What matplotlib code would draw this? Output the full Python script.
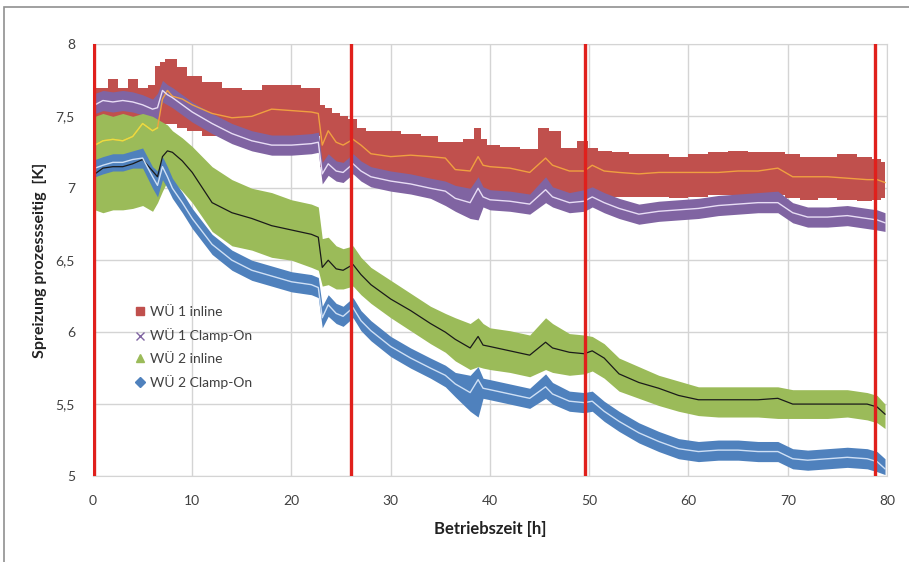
import matplotlib.pyplot as plt
from matplotlib.lines import Line2D
from matplotlib.patches import Rectangle

plt.rcParams['font.family'] = ['Lato', 'DejaVu Sans']

# time axis (h), shared by all series
hours = [0.2, 1, 2, 3, 4, 5, 6, 6.5, 7, 7.5,
         8, 9, 10, 12, 14, 16, 18, 20, 22, 22.7,
         23.1, 23.7, 24.5, 25.2, 26.2, 27, 28, 30, 32, 34,
         35.5, 36.5, 38, 38.8, 39.3, 40, 42, 44, 45.6, 46.3,
         48, 49.5, 50.3, 51.5, 53, 55, 57, 59, 61, 63,
         65, 67, 69, 70.5, 72, 74, 76, 78, 79, 79.8]

# WÜ 1 inline (red)
wu1_inline_mid = [7.30, 7.33, 7.34, 7.33, 7.36, 7.45, 7.40, 7.42, 7.62, 7.68,
                  7.64, 7.62, 7.58, 7.52, 7.49, 7.50, 7.55, 7.54, 7.53, 7.52,
                  7.30, 7.40, 7.32, 7.30, 7.34, 7.30, 7.24, 7.22, 7.23, 7.22,
                  7.21, 7.13, 7.12, 7.22, 7.16, 7.15, 7.14, 7.11, 7.21, 7.16,
                  7.12, 7.12, 7.16, 7.12, 7.11, 7.10, 7.11, 7.11, 7.11, 7.11,
                  7.12, 7.12, 7.14, 7.08, 7.08, 7.08, 7.07, 7.06, 7.06, 7.04]
wu1_inline_hi = [7.70, 7.70, 7.76, 7.70, 7.76, 7.70, 7.72, 7.85, 7.88, 7.90,
                 7.90, 7.84, 7.78, 7.74, 7.70, 7.68, 7.72, 7.72, 7.70, 7.70,
                 7.58, 7.56, 7.52, 7.50, 7.48, 7.42, 7.40, 7.40, 7.38, 7.36,
                 7.32, 7.32, 7.34, 7.42, 7.34, 7.30, 7.29, 7.27, 7.42, 7.40,
                 7.28, 7.33, 7.28, 7.26, 7.25, 7.24, 7.24, 7.22, 7.24, 7.25,
                 7.26, 7.25, 7.25, 7.24, 7.22, 7.22, 7.24, 7.22, 7.20, 7.18]
wu1_inline_lo = [7.40, 7.40, 7.40, 7.40, 7.40, 7.42, 7.42, 7.45, 7.45, 7.45,
                 7.45, 7.42, 7.40, 7.36, 7.35, 7.35, 7.36, 7.36, 7.36, 7.36,
                 7.15, 7.15, 7.15, 7.15, 7.15, 7.10, 7.08, 7.07, 7.05, 7.04,
                 7.00, 6.98, 6.96, 6.98, 6.97, 6.97, 6.96, 6.95, 6.98, 6.96,
                 6.94, 6.96, 6.96, 6.94, 6.94, 6.94, 6.94, 6.93, 6.94, 6.95,
                 6.95, 6.94, 6.95, 6.93, 6.92, 6.93, 6.92, 6.91, 6.92, 6.93]

# WÜ 1 Clamp-On (purple)
wu1_clamp_mid = [7.58, 7.61, 7.60, 7.61, 7.60, 7.58, 7.55, 7.56, 7.68, 7.65,
                 7.63, 7.58, 7.53, 7.45, 7.38, 7.33, 7.30, 7.30, 7.31, 7.32,
                 7.10, 7.17, 7.12, 7.11, 7.17, 7.12, 7.08, 7.05, 7.03, 7.00,
                 6.98, 6.93, 6.90, 7.00, 6.94, 6.92, 6.91, 6.89, 6.99, 6.94,
                 6.90, 6.91, 6.94, 6.90, 6.86, 6.82, 6.84, 6.85, 6.86, 6.88,
                 6.89, 6.90, 6.90, 6.83, 6.80, 6.80, 6.81, 6.79, 6.78, 6.76]
wu1_clamp_hi = [7.66, 7.68, 7.67, 7.68, 7.67, 7.65, 7.62, 7.66, 7.75, 7.72,
                7.70, 7.65, 7.60, 7.52, 7.45, 7.40, 7.37, 7.37, 7.38, 7.39,
                7.18, 7.24, 7.19, 7.18, 7.24, 7.19, 7.15, 7.12, 7.10, 7.07,
                7.05, 7.02, 7.00, 7.08, 7.01, 6.99, 6.98, 6.96, 7.08, 7.01,
                6.97, 6.99, 7.01, 6.97, 6.93, 6.89, 6.91, 6.92, 6.93, 6.95,
                6.96, 6.97, 6.98, 6.90, 6.87, 6.87, 6.88, 6.86, 6.85, 6.83]
wu1_clamp_lo = [7.52, 7.54, 7.53, 7.54, 7.53, 7.51, 7.47, 7.48, 7.60, 7.58,
                7.56, 7.51, 7.46, 7.38, 7.31, 7.26, 7.23, 7.23, 7.24, 7.25,
                7.03, 7.09, 7.05, 7.04, 7.10, 7.05, 7.01, 6.98, 6.96, 6.93,
                6.88, 6.84, 6.79, 6.78, 6.87, 6.85, 6.84, 6.82, 6.90, 6.87,
                6.83, 6.84, 6.87, 6.83, 6.79, 6.75, 6.77, 6.78, 6.79, 6.81,
                6.82, 6.83, 6.83, 6.76, 6.73, 6.73, 6.74, 6.72, 6.71, 6.70]

# WÜ 2 inline (green)
wu2_inline_mid = [7.10, 7.14, 7.15, 7.15, 7.17, 7.20, 7.12, 7.08, 7.22, 7.26,
                  7.25, 7.19, 7.11, 6.90, 6.83, 6.79, 6.74, 6.71, 6.68, 6.66,
                  6.45, 6.50, 6.44, 6.43, 6.47, 6.40, 6.33, 6.23, 6.15, 6.06,
                  6.00, 5.95, 5.89, 5.97, 5.91, 5.90, 5.87, 5.84, 5.93, 5.89,
                  5.86, 5.85, 5.87, 5.82, 5.71, 5.65, 5.61, 5.56, 5.53, 5.53,
                  5.53, 5.53, 5.54, 5.50, 5.50, 5.50, 5.50, 5.50, 5.48, 5.43]
wu2_inline_hi = [7.50, 7.52, 7.50, 7.52, 7.50, 7.52, 7.50, 7.48, 7.46, 7.44,
                 7.40, 7.35, 7.29, 7.15, 7.06, 7.00, 6.97, 6.92, 6.89, 6.87,
                 6.65, 6.66, 6.60, 6.58, 6.60, 6.52, 6.45, 6.36, 6.27, 6.18,
                 6.13, 6.10, 6.06, 6.10, 6.06, 6.03, 6.01, 5.98, 6.10, 6.06,
                 5.99, 5.98, 5.97, 5.92, 5.82, 5.76, 5.70, 5.66, 5.62, 5.62,
                 5.62, 5.62, 5.62, 5.60, 5.60, 5.60, 5.60, 5.58, 5.56, 5.50]
wu2_inline_lo = [6.85, 6.83, 6.85, 6.85, 6.86, 6.88, 6.84, 6.90, 6.98, 7.05,
                 7.05, 6.98, 6.90, 6.70, 6.60, 6.57, 6.52, 6.50, 6.45, 6.43,
                 6.32, 6.33, 6.30, 6.30, 6.32, 6.26, 6.20, 6.10, 6.01, 5.92,
                 5.86, 5.80, 5.74, 5.76, 5.75, 5.74, 5.72, 5.69, 5.74, 5.72,
                 5.70, 5.71, 5.73, 5.68, 5.59, 5.54, 5.49, 5.45, 5.42, 5.41,
                 5.41, 5.41, 5.40, 5.40, 5.40, 5.40, 5.41, 5.39, 5.37, 5.33]

# WÜ 2 Clamp-On (blue)
wu2_clamp_mid = [7.14, 7.16, 7.18, 7.18, 7.20, 7.21, 7.08, 7.02, 7.15, 7.08,
                 7.00, 6.90, 6.79, 6.61, 6.50, 6.43, 6.39, 6.35, 6.33, 6.31,
                 6.10, 6.19, 6.13, 6.11, 6.17, 6.08, 6.01, 5.90, 5.82, 5.75,
                 5.70, 5.64, 5.58, 5.67, 5.61, 5.60, 5.57, 5.54, 5.62, 5.57,
                 5.52, 5.51, 5.52, 5.45, 5.38, 5.30, 5.24, 5.19, 5.17, 5.18,
                 5.18, 5.17, 5.17, 5.12, 5.11, 5.12, 5.13, 5.12, 5.10, 5.05]
wu2_clamp_hi = [7.20, 7.22, 7.24, 7.24, 7.26, 7.28, 7.15, 7.12, 7.22, 7.15,
                7.07, 6.97, 6.86, 6.68, 6.57, 6.50, 6.46, 6.42, 6.40, 6.38,
                6.18, 6.26, 6.20, 6.18, 6.24, 6.15, 6.08, 5.97, 5.89, 5.82,
                5.77, 5.72, 5.70, 5.76, 5.68, 5.67, 5.64, 5.61, 5.71, 5.65,
                5.59, 5.58, 5.59, 5.52, 5.45, 5.37, 5.31, 5.26, 5.24, 5.25,
                5.25, 5.24, 5.24, 5.19, 5.18, 5.19, 5.20, 5.19, 5.17, 5.12]
wu2_clamp_lo = [7.08, 7.10, 7.12, 7.12, 7.14, 7.14, 7.00, 6.94, 7.06, 7.00,
                6.93, 6.83, 6.72, 6.54, 6.43, 6.36, 6.32, 6.28, 6.26, 6.24,
                6.03, 6.11, 6.06, 6.04, 6.10, 6.01, 5.94, 5.83, 5.75, 5.68,
                5.62, 5.55, 5.45, 5.41, 5.54, 5.53, 5.50, 5.47, 5.54, 5.50,
                5.45, 5.44, 5.45, 5.38, 5.31, 5.23, 5.17, 5.12, 5.10, 5.11,
                5.11, 5.10, 5.10, 5.05, 5.04, 5.05, 5.06, 5.05, 5.03, 5.01]

# phase boundaries (h)
markers_h = [0.15, 26.0, 49.6, 78.8]

x_ticks = [0, 10, 20, 30, 40, 50, 60, 70, 80]
y_ticks = [5, 5.5, 6, 6.5, 7, 7.5, 8]
y_tick_labels = ['5', '5,5', '6', '6,5', '7', '7,5', '8']

RED = '#C0504D'
PURPLE = '#8064A2'
GREEN = '#9BBB59'
BLUE = '#4F81BD'

fig = plt.figure(figsize=(9.09, 5.62), dpi=100)
ax = fig.add_axes([0.1023, 0.153, 0.8735, 0.768])

# red band looks blocky in the original, the others are smoother
ax.fill_between(hours, wu1_inline_lo, wu1_inline_hi, color=RED, lw=0, step='mid', zorder=2)
bands = [
    (wu1_clamp_lo, wu1_clamp_hi, PURPLE),
    (wu2_inline_lo, wu2_inline_hi, GREEN),
    (wu2_clamp_lo, wu2_clamp_hi, BLUE),
]
for lo, hi, col in bands:
    ax.fill_between(hours, lo, hi, color=col, lw=0, zorder=2)

ax.plot(hours, wu1_inline_mid, color='#F0A040', lw=1.0, zorder=3)
ax.plot(hours[:8], wu1_inline_mid[:8], color='#E6E040', lw=1.0, zorder=3)
ax.plot(hours, wu1_clamp_mid, color='#E8DDF5', lw=1.0, zorder=3)
ax.plot(hours, wu2_inline_mid, color='#1a1a1a', lw=0.9, zorder=3)
ax.plot(hours, wu2_clamp_mid, color='#CFE0F5', lw=1.0, zorder=3)

for h in markers_h:
    ax.axvline(h, color='#E0201C', lw=2.4, zorder=4)

ax.set_xlim(0, 80)
ax.set_ylim(5, 8)
ax.set_xticks(x_ticks)
ax.set_yticks(y_ticks)
ax.set_yticklabels(y_tick_labels)
ax.grid(True, color='#D4D4D4', lw=1.0, zorder=0)
ax.set_axisbelow(True)
for s in ax.spines.values():
    s.set_color('#D4D4D4')
ax.tick_params(length=0, labelsize=10, colors='#404040', pad=13)
ax.tick_params(axis='x', pad=14)

ax.set_xlabel('Betriebszeit [h]', fontsize=12, fontweight='bold', color='#222222', labelpad=10)
ax.set_ylabel('Spreizung prozessseitig  [K]', fontsize=11.5, fontweight='bold', color='#222222', labelpad=6)

handles = [
    Line2D([], [], ls='none', marker='s', color=RED, ms=6),
    Line2D([], [], ls='none', marker='x', color=PURPLE, ms=6, mew=1.0),
    Line2D([], [], ls='none', marker='^', color=GREEN, ms=6),
    Line2D([], [], ls='none', marker='D', color=BLUE, ms=5),
]
labels = ['WÜ 1 inline', 'WÜ 1 Clamp-On', 'WÜ 2 inline', 'WÜ 2 Clamp-On']
ax.legend(handles, labels, loc='upper left', bbox_to_anchor=(0.045, 0.41),
          frameon=False, fontsize=10, handlelength=0.6, handletextpad=0.4,
          labelspacing=0.75, labelcolor='#404040', borderpad=0)

fig.patches.append(Rectangle((4 / 909, -0.05), 1.1, 1 - 7 / 562 + 0.05,
                             transform=fig.transFigure, fill=False,
                             edgecolor='#909090', lw=1.2))

fig.savefig('out.png', dpi=100)
